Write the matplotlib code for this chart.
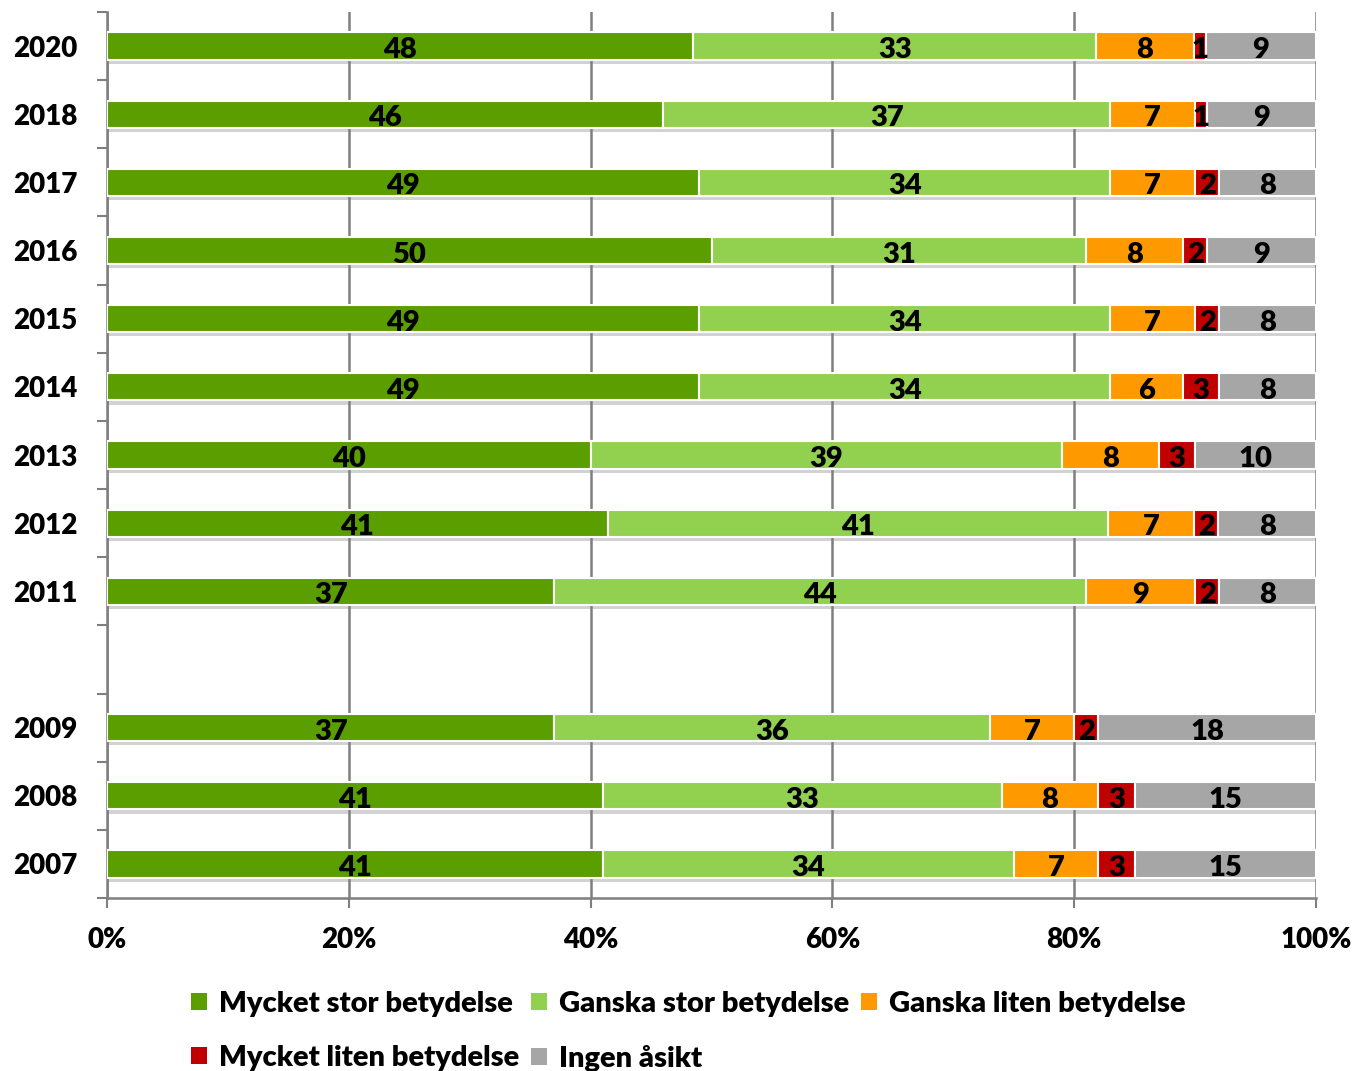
import numpy as np
import matplotlib
matplotlib.use("Agg")
from matplotlib import pyplot as plt
from matplotlib import patheffects as pe
from matplotlib.patches import Patch

plt.rcParams['font.family'] = ['Lato', 'DejaVu Sans']
plt.rcParams['font.weight'] = 800

years = ['2020', '2018', '2017', '2016', '2015', '2014', '2013', '2012', '2011', '', '2009', '2008', '2007']
series_names = ['Mycket stor betydelse', 'Ganska stor betydelse', 'Ganska liten betydelse',
                'Mycket liten betydelse', 'Ingen åsikt']
colors = ['#5A9E00', '#92D050', '#FF9900', '#C00000', '#A6A6A6']

nan = np.nan
mycket_stor = [48, 46, 49, 50, 49, 49, 40, 41, 37, nan, 37, 41, 41]
ganska_stor = [33, 37, 34, 31, 34, 34, 39, 41, 44, nan, 36, 33, 34]
ganska_liten = [8, 7, 7, 8, 7, 6, 8, 7, 9, nan, 7, 8, 7]
mycket_liten = [1, 1, 2, 2, 2, 3, 3, 2, 2, nan, 2, 3, 3]
ingen_asikt = [9, 9, 8, 9, 8, 8, 10, 8, 8, nan, 18, 15, 15]

values = np.array([mycket_stor, ganska_stor, ganska_liten, mycket_liten, ingen_asikt], dtype=float)
totals = values.sum(axis=0)
shares = values / totals * 100  # stacked to 100 %

W, H = 1357, 1071
fig = plt.figure(figsize=(W / 100, H / 100), dpi=100)
ax = fig.add_axes([107 / W, 1 - 898 / H, (1316 - 107) / W, (898 - 12) / H])

pos = np.arange(len(years))
has_data = ~np.isnan(values[0])
shadow = [pe.SimplePatchShadow(offset=(0, -3), shadow_rgbFace='#7f7f7f', alpha=0.35), pe.Normal()]
left = np.zeros(len(years))
for i in range(len(series_names)):
    w = np.nan_to_num(shares[i])
    bars = ax.barh(pos[has_data], w[has_data], left=left[has_data], height=0.4, color=colors[i],
                   edgecolor='white', linewidth=1.5, zorder=3)
    for b in bars:
        b.set_path_effects(shadow)
    for j in pos[has_data]:
        ax.text(left[j] + w[j] / 2, pos[j] + 0.06, '%d' % values[i, j], ha='center', va='center',
                fontsize=21, color='black', zorder=4)
    left += w

ax.set_xlim(0, 100)
ax.set_ylim(len(years) - 0.5, -0.5)
ax.set_xticks(np.arange(0, 101, 20))
ax.set_xticklabels(['%d%%' % v for v in range(0, 101, 20)], fontsize=20)
ax.xaxis.grid(True, color='#7f7f7f', linewidth=1.8, zorder=0)
ax.set_axisbelow(True)

ax.set_yticks(np.arange(len(years) + 1) - 0.5)
ax.set_yticklabels([])
ax.set_yticks(pos, minor=True)
ax.set_yticklabels(years, minor=True, fontsize=20)
ax.tick_params(axis='y', which='major', length=7.2, width=1.5, color='#7f7f7f')
ax.tick_params(axis='y', which='minor', length=0, pad=21)
ax.tick_params(axis='x', which='major', length=7.2, width=1.5, color='#7f7f7f', pad=14)

for side in ['top', 'right']:
    ax.spines[side].set_visible(False)
for side in ['left', 'bottom']:
    ax.spines[side].set_color('#7f7f7f')
    ax.spines[side].set_linewidth(1.8)

handles = [Patch(facecolor=c, edgecolor='none') for c in colors]
order = [0, 3, 1, 4, 2]
fig.legend([handles[k] for k in order], [series_names[k] for k in order], ncol=3,
           loc='upper left', bbox_to_anchor=(191 / W, 1 - 991 / H), frameon=False,
           fontsize=21, handlelength=0.55, handleheight=0.55, handletextpad=0.4,
           columnspacing=0.42, labelspacing=0.95, borderaxespad=0, borderpad=0)

fig.savefig('out.png', dpi=100)
